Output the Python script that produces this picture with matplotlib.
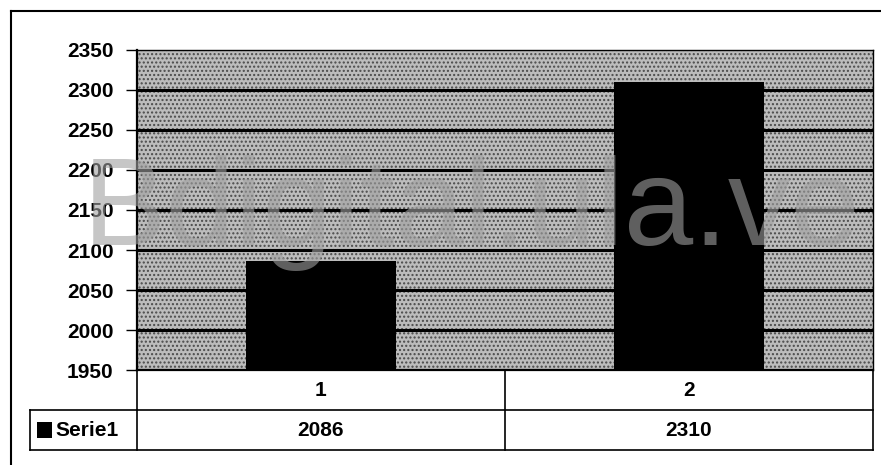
import numpy as np
import matplotlib.pyplot as plt

# Data
categories = ['1', '2']
values = [2086, 2310]
series_name = 'Serie1'
y_ticks = [1950, 2000, 2050, 2100, 2150, 2200, 2250, 2300, 2350]

plt.rcParams['font.family'] = ['Liberation Sans', 'DejaVu Sans']
fs = 15

fig = plt.figure(figsize=(8.81, 4.65), dpi=100)
ax = fig.add_axes([137 / 881, 95 / 465, 736 / 881, 320 / 465])

# Speckled grey plot area
ax.set_facecolor('#bcbcbc')
ax.add_patch(plt.Rectangle((0, 0), 1, 1, transform=ax.transAxes, facecolor='none',
                           edgecolor='#4a4a4a', hatch='....', lw=0, zorder=0.5))

x = np.arange(len(categories))
ax.bar(x, values, width=0.41, color='black', zorder=3)

ax.set_xlim(-0.5, len(categories) - 0.5)
ax.set_ylim(y_ticks[0], y_ticks[-1])
ax.set_yticks(y_ticks)
ax.set_yticklabels([str(t) for t in y_ticks], fontsize=fs, fontweight='bold')
ax.set_xticks([])

for t in y_ticks[1:-1]:
    ax.axhline(t, color='black', lw=2.2, zorder=2)

ax.tick_params(axis='y', direction='out', length=8, width=1, pad=9)
for s in ['left', 'bottom']:
    ax.spines[s].set_linewidth(1.6)
for s in ['top', 'right']:
    ax.spines[s].set_linewidth(1.0)

# Data table under the plot
row1, row2 = -0.125, -0.25
left_cell = (30 - 137) / 736
kw = dict(transform=ax.transAxes, clip_on=False, color='black', lw=1.2)
ax.plot([0, 1], [row1, row1], **kw)
ax.plot([left_cell, 1], [row2, row2], **kw)
ax.plot([left_cell, 0], [row1, row1], **kw)
ax.plot([0, 0], [0, row2], **kw)
ax.plot([1, 1], [0, row2], **kw)
ax.plot([0.5, 0.5], [0, row2], **kw)
ax.plot([left_cell, left_cell], [row1, row2], **kw)

for i, (c, v) in enumerate(zip(categories, values)):
    xc = (i + 0.5) / len(categories)
    ax.text(xc, row1 / 2, c, transform=ax.transAxes, ha='center', va='center',
            fontsize=fs, fontweight='bold')
    ax.text(xc, (row1 + row2) / 2, str(v), transform=ax.transAxes, ha='center',
            va='center', fontsize=fs, fontweight='bold')

ax.add_patch(plt.Rectangle((left_cell + 0.01, (row1 + row2) / 2 - 0.026), 0.02, 0.052,
                           transform=ax.transAxes, facecolor='black', clip_on=False))
ax.text(left_cell + 0.034, (row1 + row2) / 2, series_name, transform=ax.transAxes,
        ha='left', va='center', fontsize=fs, fontweight='bold')

# Outer chart frame
fig.add_artist(plt.Line2D([11 / 881, 11 / 881], [0, 454 / 465], color='black', lw=1.5))
fig.add_artist(plt.Line2D([11 / 881, 1], [454 / 465, 454 / 465], color='black', lw=1.5))

# Watermark
fig.text(0.535, 252 / 465, 'Bdigital.ula.ve', fontsize=90, color='#a0a0a0', alpha=0.6,
         ha='center', va='center', zorder=10)

fig.savefig('out.png', dpi=100)
